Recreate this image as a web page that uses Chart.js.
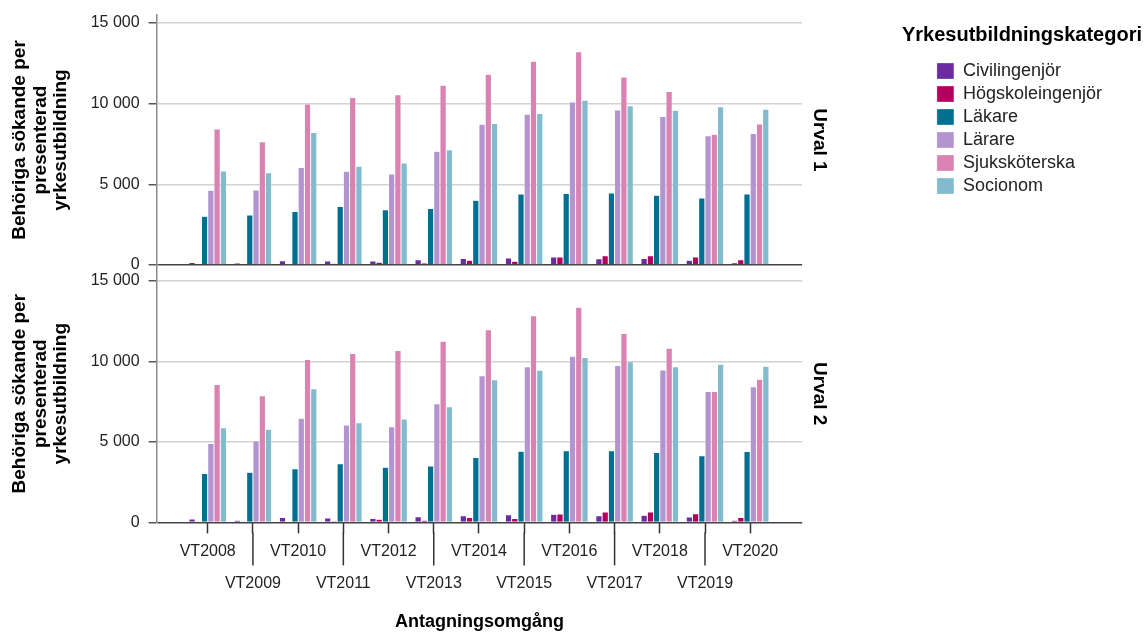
<!DOCTYPE html>
<html>
<head>
<meta charset="utf-8">
<script src="https://cdn.jsdelivr.net/npm/chart.js@4"></script>
<style>
  body { margin: 0; background: #fff; }
  #wrap { position: relative; width: 1144px; height: 633px; overflow: hidden; }
  .panel { position: absolute; left: 0; width: 1144px; }
  #p1 { top: 0; height: 280px; }
  #p2 { top: 250px; height: 383px; }
</style>
</head>
<body>
<div id="wrap">
  <div class="panel" id="p1"><canvas id="urval1"></canvas></div>
  <div class="panel" id="p2"><canvas id="urval2"></canvas></div>
</div>
<script>
const rounds = ['VT2008', 'VT2009', 'VT2010', 'VT2011', 'VT2012', 'VT2013', 'VT2014',
  'VT2015', 'VT2016', 'VT2017', 'VT2018', 'VT2019', 'VT2020'];

const categories = ['Civilingenjör', 'Högskoleingenjör', 'Läkare', 'Lärare', 'Sjuksköterska', 'Socionom'];
const colors = ['#6a2ca0', '#b3005f', '#006f91', '#b394d0', '#da82b1', '#81bbcd'];

// Urval 1
const civ1 = [150, 120, 270, 250, 250, 330, 410, 430, 500, 390, 410, 290, 140];
const hog1 = [40, 40, 20, 100, 170, 120, 290, 230, 500, 580, 580, 500, 330];
const lak1 = [3020, 3100, 3310, 3620, 3430, 3510, 4010, 4400, 4440, 4460, 4320, 4150, 4400];
const lar1 = [4630, 4650, 6050, 5810, 5640, 7050, 8720, 9340, 10100, 9610, 9210, 8020, 8160];
const sjuk1 = [8430, 7640, 9980, 10390, 10560, 11140, 11820, 12640, 13220, 11650, 10760, 8100, 8740];
const soc1 = [5830, 5720, 8220, 6120, 6320, 7150, 8780, 9400, 10210, 9880, 9590, 9810, 9650];

// Urval 2
const civ2 = [210, 140, 310, 270, 250, 350, 410, 480, 500, 410, 450, 330, 140];
const hog2 = [60, 60, 20, 80, 190, 140, 310, 250, 520, 640, 640, 540, 310];
const lak2 = [3040, 3120, 3330, 3640, 3430, 3510, 4030, 4420, 4460, 4460, 4340, 4150, 4400];
const lar2 = [4900, 5060, 6470, 6050, 5950, 7380, 9110, 9670, 10330, 9750, 9480, 8140, 8430];
const sjuk2 = [8570, 7870, 10120, 10500, 10680, 11260, 11980, 12850, 13370, 11740, 10830, 8140, 8900];
const soc2 = [5890, 5790, 8310, 6200, 6430, 7190, 8860, 9460, 10250, 9980, 9670, 9830, 9710];

const urval1 = [civ1, hog1, lak1, lar1, sjuk1, soc1];
const urval2 = [civ2, hog2, lak2, lar2, sjuk2, soc2];

const yTicks = [0, 5000, 10000, 15000];
const yTitle = ['Behöriga sökande per', 'presenterad', 'yrkesutbildning'];
const xTitle = 'Antagningsomgång';
const legendTitle = 'Yrkesutbildningskategori';

Chart.defaults.font.family = '"Liberation Sans", Arial, sans-serif';
Chart.defaults.color = '#222';

const fmt = v => String(v).replace(/\B(?=(\d{3})+(?!\d))/g, ' ');

function makeSets(series) {
  return series.map((vals, k) => ({
    label: categories[k],
    data: vals.map((v, i) => ({ x: i, y: v })),
    backgroundColor: colors[k],
    borderColor: 'rgba(255,255,255,0.6)',
    borderWidth: 0.5,
    categoryPercentage: 0.83,
    barPercentage: 1.0
  }));
}

// heading over the legend (the legend box itself is too narrow for it)
const legendHeading = {
  id: 'legendHeading',
  afterDraw(chart) {
    const lg = chart.legend;
    const ctx = chart.ctx;
    ctx.save();
    ctx.font = 'bold 20px "Liberation Sans", Arial, sans-serif';
    ctx.fillStyle = '#000';
    ctx.textAlign = 'center';
    ctx.textBaseline = 'middle';
    ctx.fillText(legendTitle, lg.left + lg.width / 2, lg.top + 20);
    ctx.restore();
  }
};

// long tick lines for the lower row of round labels
const longTicks = {
  id: 'longTicks',
  afterDraw(chart) {
    const x = chart.scales.x;
    const base = chart.chartArea.bottom;
    const ctx = chart.ctx;
    ctx.save();
    ctx.strokeStyle = '#333';
    ctx.lineWidth = 1.5;
    rounds.forEach((r, i) => {
      if (i % 2 === 1) {
        const px = x.getPixelForValue(i);
        ctx.beginPath();
        ctx.moveTo(px, base + 10);
        ctx.lineTo(px, base + 43);
        ctx.stroke();
      }
    });
    ctx.restore();
  }
};

function panel(canvasId, series, label, yMax, withAxis, withLegend, padding) {
  return new Chart(document.getElementById(canvasId), {
    type: 'bar',
    data: { datasets: makeSets(series) },
    options: {
      responsive: true,
      maintainAspectRatio: false,
      animation: false,
      layout: { padding: padding },
      scales: {
        x: {
          type: 'linear',
          display: withAxis,
          offset: false,
          min: -1.13,
          max: 13.15,
          afterBuildTicks: s => { s.ticks = rounds.map((r, i) => ({ value: i })); },
          ticks: {
            autoSkip: false,
            maxRotation: 0,
            minRotation: 0,
            padding: 2,
            font: { size: 16, lineHeight: 2 },
            callback: v => (v % 2 === 0 ? rounds[v] : ['', rounds[v]])
          },
          grid: {
            offset: false,
            drawOnChartArea: false,
            tickLength: 11,
            tickColor: '#333',
            tickWidth: 1.5
          },
          border: { display: false },
          title: {
            display: true,
            text: xTitle,
            font: { size: 18, weight: 'bold' },
            color: '#000',
            padding: { top: 10, bottom: 0 }
          }
        },
        y: {
          type: 'linear',
          position: 'left',
          min: 0,
          max: yMax,
          afterBuildTicks: s => { s.ticks = yTicks.map(v => ({ value: v })); },
          ticks: { font: { size: 16, lineHeight: 0.75 }, padding: 9, callback: v => fmt(v) },
          grid: {
            color: c => (c.tick && c.tick.value === 0) ? '#444' : '#d2d2d2',
            lineWidth: 1.5,
            tickColor: '#555',
            tickLength: 8,
            tickWidth: 1.5
          },
          border: { color: '#8a8a8a', width: 1.5 },
          title: {
            display: true,
            text: yTitle,
            font: { size: 19, weight: 'bold', lineHeight: 1.1 },
            color: '#000',
            padding: { top: 5, bottom: 10 }
          }
        },
        yr: {
          type: 'linear',
          position: 'right',
          min: 0,
          max: yMax,
          ticks: { display: false },
          grid: { display: false, drawTicks: false },
          border: { display: false },
          title: {
            display: true,
            text: label,
            font: { size: 19, weight: 'bold' },
            color: '#000',
            padding: { top: 101, bottom: 6 }
          }
        }
      },
      plugins: {
        legend: {
          display: withLegend,
          position: 'right',
          align: 'start',
          title: { display: true, text: '', font: { size: 20 }, padding: { top: 18, bottom: 0 } },
          labels: {
            boxWidth: 17,
            boxHeight: 16,
            padding: 5,
            color: '#222',
            font: { size: 18 }
          }
        },
        tooltip: { enabled: false }
      }
    },
    plugins: withLegend ? [legendHeading] : [longTicks]
  });
}

panel('urval1', urval1, 'Urval 1', 15500, false, true, { left: 4, right: 32, top: 15, bottom: 3 });
panel('urval2', urval2, 'Urval 2', 16000, true, false, { left: 4, right: 212, top: 0, bottom: 0 });
</script>
</body>
</html>
